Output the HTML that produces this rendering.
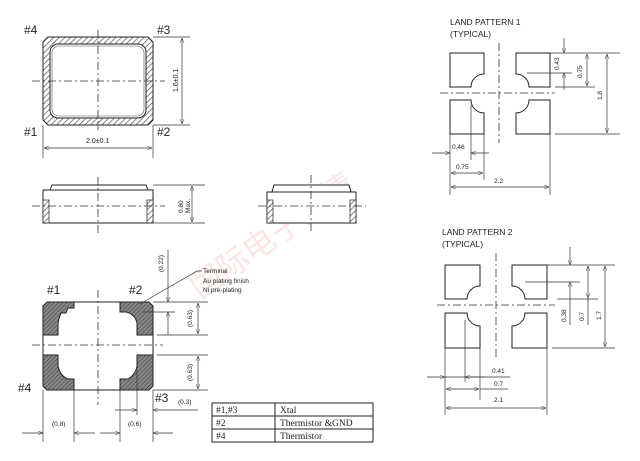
<!DOCTYPE html>
<html><head><meta charset="utf-8"><style>
html,body{margin:0;padding:0;background:#fff;}
svg{display:block;}
text{font-family:"Liberation Sans",sans-serif;fill:#222;}
.s{stroke:#222;stroke-width:1;fill:none;}
.d{stroke:#333;stroke-width:0.8;fill:none;stroke-dasharray:8,3,2,3;}
.t{stroke:#333;stroke-width:0.7;fill:none;}
</style></head><body>
<svg width="640" height="461" viewBox="0 0 640 461" xmlns="http://www.w3.org/2000/svg">
<defs>
<pattern id="h" width="4" height="4" patternUnits="userSpaceOnUse" patternTransform="rotate(45)">
<rect width="4" height="4" fill="#fff"/><line x1="0" y1="0" x2="0" y2="4" stroke="#444" stroke-width="1.3"/></pattern>
<pattern id="g" width="3" height="3" patternUnits="userSpaceOnUse" patternTransform="rotate(45)">
<rect width="3" height="3" fill="#888"/><line x1="0" y1="0" x2="0" y2="3" stroke="#444" stroke-width="1.2"/></pattern>
<marker id="a" viewBox="0 0 10 10" refX="10" refY="5" markerWidth="7" markerHeight="7" orient="auto-start-reverse"><path d="M0,1 L10,5 L0,9" fill="none" stroke="#333" stroke-width="1"/></marker>
</defs>

<!-- watermark -->
<text x="200" y="300" font-size="32" style="fill:#fbe6e6;font-family:'Noto Sans CJK SC',sans-serif" transform="rotate(-35 200 300)">国际电子商情</text>

<!-- TOP VIEW -->
<path d="M48,37 L148,37 L153,42 L153,120 L148,125 L48,125 L43,120 L43,42 Z" fill="url(#h)" stroke="#222"/>
<rect x="50" y="44" width="96" height="74" rx="8" fill="#fff" stroke="#222"/>
<rect x="52" y="46" width="92" height="70" rx="7" fill="none" stroke="#555" stroke-width="0.6"/>
<line class="d" x1="98" y1="30" x2="98" y2="130"/>
<line class="d" x1="32" y1="81" x2="165" y2="81"/>
<text x="24" y="34" font-size="12">#4</text>
<text x="157" y="34" font-size="12">#3</text>
<text x="24" y="136" font-size="12">#1</text>
<text x="157" y="136" font-size="12">#2</text>
<line class="t" x1="153" y1="37" x2="190" y2="37"/>
<line class="t" x1="153" y1="125" x2="190" y2="125"/>
<line class="t" x1="182" y1="38" x2="182" y2="124" marker-start="url(#a)" marker-end="url(#a)"/>
<text x="0" y="0" font-size="7" transform="translate(178,92) rotate(-90)">1.6±0.1</text>
<line class="t" x1="43" y1="125" x2="43" y2="158"/>
<line class="t" x1="153" y1="125" x2="153" y2="158"/>
<line class="t" x1="44" y1="148" x2="152" y2="148" marker-start="url(#a)" marker-end="url(#a)"/>
<text x="86" y="143" font-size="7">2.0±0.1</text>

<!-- SIDE VIEW 1 -->
<path d="M50,190 L52,185 L146,185 L148,190 Z" fill="#fff" stroke="#222"/>
<rect x="43" y="190" width="110" height="33" fill="#fff" stroke="#222"/>
<rect x="43" y="200" width="6" height="23" fill="url(#h)" stroke="#222" stroke-width="0.7"/>
<rect x="147" y="200" width="6" height="23" fill="url(#h)" stroke="#222" stroke-width="0.7"/>
<line class="d" x1="32" y1="206" x2="165" y2="206"/>
<line class="d" x1="98" y1="177" x2="98" y2="234"/>
<line class="t" x1="153" y1="185" x2="205" y2="185"/>
<line class="t" x1="153" y1="223" x2="205" y2="223"/>
<line class="t" x1="192" y1="186" x2="192" y2="222" marker-start="url(#a)" marker-end="url(#a)"/>
<text font-size="6.5" transform="translate(183,213) rotate(-90)">0.80</text>
<text font-size="6.5" transform="translate(190,213) rotate(-90)">Max.</text>

<!-- SIDE VIEW 2 -->
<path d="M272,192 L274,185 L349,185 L351,192 Z" fill="#fff" stroke="#222"/>
<rect x="267" y="192" width="89" height="31" fill="#fff" stroke="#222"/>
<rect x="267" y="200" width="6" height="23" fill="url(#h)" stroke="#222" stroke-width="0.7"/>
<rect x="350" y="200" width="6" height="23" fill="url(#h)" stroke="#222" stroke-width="0.7"/>
<line class="d" x1="258" y1="206" x2="366" y2="206"/>
<line class="d" x1="311" y1="175" x2="311" y2="234"/>

<!-- BOTTOM VIEW -->
<path d="M47,302 L74,302 L74,308 L68,308 L66,313 L61,313 Q58,320 58,325 L58,335 L43,335 L43,306 Z" fill="url(#g)" stroke="#222"/>
<path d="M120,302 L149,302 L153,306 L153,335 L137,335 L137,323 Q135,314 126,312 L120,312 Z" fill="url(#g)" stroke="#222"/>
<path d="M43,355 L58,355 L58,366 Q60,376 68,379 L74,379 L74,390 L47,390 L43,386 Z" fill="url(#g)" stroke="#222"/>
<path d="M137,355 L153,355 L153,386 L149,390 L120,390 L120,379 L128,379 Q136,374 137,366 Z" fill="url(#g)" stroke="#222"/>
<line class="s" x1="74" y1="302" x2="120" y2="302"/>
<line class="s" x1="74" y1="390" x2="120" y2="390"/>
<line class="s" x1="43" y1="335" x2="43" y2="355"/>
<line class="s" x1="153" y1="335" x2="153" y2="355"/>
<line class="d" x1="98" y1="290" x2="98" y2="405"/>
<line class="d" x1="32" y1="345" x2="163" y2="345"/>
<text x="47" y="294" font-size="12">#1</text>
<text x="129" y="294" font-size="12">#2</text>
<text x="18" y="392" font-size="12">#4</text>
<text x="155" y="402" font-size="12">#3</text>
<text x="178" y="404" font-size="6.5">(0.3)</text>
<line class="t" x1="153" y1="302" x2="208" y2="302"/>
<line class="t" x1="143" y1="312" x2="175" y2="312"/>
<line class="t" x1="157" y1="335" x2="208" y2="335"/>
<line class="t" x1="157" y1="355" x2="208" y2="355"/>
<line class="t" x1="153" y1="390" x2="208" y2="390"/>
<line class="t" x1="168" y1="250" x2="168" y2="302" marker-end="url(#a)"/>
<line class="t" x1="168" y1="335" x2="168" y2="312" marker-end="url(#a)"/>
<text font-size="6.5" transform="translate(163,272) rotate(-90)">(0.22)</text>
<line class="t" x1="198" y1="303" x2="198" y2="334" marker-start="url(#a)" marker-end="url(#a)"/>
<text font-size="6.5" transform="translate(192,327) rotate(-90)">(0.63)</text>
<line class="t" x1="198" y1="356" x2="198" y2="389" marker-start="url(#a)" marker-end="url(#a)"/>
<text font-size="6.5" transform="translate(192,381) rotate(-90)">(0.63)</text>
<polyline class="t" points="140,304 197,271 202,271"/>
<text x="203" y="273" font-size="6.5">Terminal</text>
<text x="203" y="283" font-size="6.5">Au plating finish</text>
<text x="203" y="292" font-size="6.5">Ni pre-plating</text>
<line class="t" x1="43" y1="390" x2="43" y2="442"/>
<line class="t" x1="74" y1="390" x2="74" y2="442"/>
<line class="t" x1="120" y1="390" x2="120" y2="442"/>
<line class="t" x1="153" y1="390" x2="153" y2="442"/>
<line class="t" x1="137" y1="370" x2="137" y2="415"/>
<line class="t" x1="22" y1="433" x2="43" y2="433" marker-end="url(#a)"/>
<line class="t" x1="95" y1="433" x2="74" y2="433" marker-end="url(#a)"/>
<line class="t" x1="100" y1="433" x2="120" y2="433" marker-end="url(#a)"/>
<line class="t" x1="173" y1="433" x2="153" y2="433" marker-end="url(#a)"/>
<line class="t" x1="115" y1="410" x2="137" y2="410" marker-end="url(#a)"/>
<line class="t" x1="198" y1="410" x2="153" y2="410" marker-end="url(#a)"/>
<text x="52" y="426" font-size="6.5">(0.8)</text>
<text x="128" y="426" font-size="6.5">(0.6)</text>

<!-- TABLE -->
<rect x="212" y="403" width="161" height="39" fill="#fff" stroke="#222"/>
<line class="s" x1="212" y1="416" x2="373" y2="416"/>
<line class="s" x1="212" y1="429" x2="373" y2="429"/>
<line class="s" x1="275" y1="403" x2="275" y2="442"/>
<g font-size="9.5">
<text x="216" y="413" style="font-family:'Liberation Serif',serif">#1,#3</text>
<text x="280" y="413" style="font-family:'Liberation Serif',serif">Xtal</text>
<text x="216" y="426" style="font-family:'Liberation Serif',serif">#2</text>
<text x="280" y="426" style="font-family:'Liberation Serif',serif">Thermistor &amp;GND</text>
<text x="216" y="439" style="font-family:'Liberation Serif',serif">#4</text>
<text x="280" y="439" style="font-family:'Liberation Serif',serif">Thermistor</text>
</g>

<!-- LAND PATTERN 1 -->
<text x="450" y="25" font-size="8.5">LAND PATTERN 1</text>
<text x="450" y="37" font-size="8.5">(TYPICAL)</text>
<path class="s" d="M450,53 L484,53 L484,74 A13,13 0 0 0 471,87 L450,87 Z"/>
<path class="s" d="M516,53 L550,53 L550,87 L529,87 A13,13 0 0 0 516,74 Z"/>
<path class="s" d="M450,100 L471,100 A13,13 0 0 0 484,113 L484,134 L450,134 Z"/>
<path class="s" d="M529,100 L550,100 L550,134 L516,134 L516,113 A13,13 0 0 0 529,100 Z"/>
<line class="d" x1="499" y1="43" x2="499" y2="143"/>
<line class="d" x1="440" y1="93" x2="555" y2="93"/>
<line class="t" x1="550" y1="53" x2="620" y2="53"/>
<line class="t" x1="527" y1="73" x2="572" y2="73"/>
<line class="t" x1="555" y1="87" x2="595" y2="87"/>
<line class="t" x1="555" y1="134" x2="620" y2="134"/>
<line class="t" x1="564" y1="38" x2="564" y2="53" marker-end="url(#a)"/>
<line class="t" x1="564" y1="90" x2="564" y2="73" marker-end="url(#a)"/>
<text font-size="6.5" transform="translate(559,70) rotate(-90)">0.43</text>
<line class="t" x1="587" y1="54" x2="587" y2="86" marker-start="url(#a)" marker-end="url(#a)"/>
<text font-size="6.5" transform="translate(582,78) rotate(-90)">0.75</text>
<line class="t" x1="607" y1="54" x2="607" y2="133" marker-start="url(#a)" marker-end="url(#a)"/>
<text font-size="6.5" transform="translate(602,100) rotate(-90)">1.8</text>
<line class="t" x1="450" y1="134" x2="450" y2="195"/>
<line class="t" x1="484" y1="134" x2="484" y2="180"/>
<line class="t" x1="550" y1="134" x2="550" y2="195"/>
<line class="t" x1="471" y1="105" x2="471" y2="160"/>
<line class="t" x1="432" y1="153" x2="450" y2="153" marker-end="url(#a)"/>
<line class="t" x1="489" y1="153" x2="471" y2="153" marker-end="url(#a)"/>
<text x="452" y="149" font-size="6.5">0.46</text>
<line class="t" x1="451" y1="173" x2="483" y2="173" marker-start="url(#a)" marker-end="url(#a)"/>
<text x="456" y="169" font-size="6.5">0.75</text>
<line class="t" x1="451" y1="187" x2="549" y2="187" marker-start="url(#a)" marker-end="url(#a)"/>
<text x="494" y="183" font-size="6.5">2.2</text>

<!-- LAND PATTERN 2 -->
<text x="442" y="235" font-size="8.5">LAND PATTERN 2</text>
<text x="442" y="247" font-size="8.5">(TYPICAL)</text>
<path class="s" d="M445,265 L480,265 L480,286 A13,13 0 0 0 467,299 L445,299 Z"/>
<path class="s" d="M512,265 L547,265 L547,299 L525,299 A13,13 0 0 0 512,286 Z"/>
<path class="s" d="M445,313 L467,313 A13,13 0 0 0 480,326 L480,348 L445,348 Z"/>
<path class="s" d="M525,313 L547,313 L547,348 L512,348 L512,326 A13,13 0 0 0 525,313 Z"/>
<line class="d" x1="496" y1="253" x2="496" y2="360"/>
<line class="d" x1="437" y1="305" x2="555" y2="305"/>
<line class="t" x1="547" y1="265" x2="615" y2="265"/>
<line class="t" x1="525" y1="282" x2="580" y2="282"/>
<line class="t" x1="557" y1="299" x2="598" y2="299"/>
<line class="t" x1="552" y1="348" x2="615" y2="348"/>
<line class="t" x1="570" y1="247" x2="570" y2="265" marker-end="url(#a)"/>
<line class="t" x1="570" y1="325" x2="570" y2="282" marker-end="url(#a)"/>
<text font-size="6.5" transform="translate(566,322) rotate(-90)">0.38</text>
<line class="t" x1="588" y1="266" x2="588" y2="298" marker-start="url(#a)" marker-end="url(#a)"/>
<line class="t" x1="588" y1="298" x2="588" y2="325"/>
<text font-size="6.5" transform="translate(584,321) rotate(-90)">0.7</text>
<line class="t" x1="605" y1="266" x2="605" y2="347" marker-start="url(#a)" marker-end="url(#a)"/>
<text font-size="6.5" transform="translate(601,320) rotate(-90)">1.7</text>
<line class="t" x1="445" y1="348" x2="445" y2="415"/>
<line class="t" x1="465" y1="320" x2="465" y2="382"/>
<line class="t" x1="480" y1="348" x2="480" y2="400"/>
<line class="t" x1="547" y1="348" x2="547" y2="415"/>
<line class="t" x1="427" y1="377" x2="445" y2="377" marker-end="url(#a)"/>
<line class="t" x1="445" y1="377" x2="510" y2="377"/>
<line class="t" x1="485" y1="377" x2="465" y2="377" marker-end="url(#a)"/>
<text x="492" y="373" font-size="6.5">0.41</text>
<line class="t" x1="446" y1="389" x2="479" y2="389" marker-start="url(#a)" marker-end="url(#a)"/>
<line class="t" x1="480" y1="389" x2="508" y2="389"/>
<text x="494" y="386" font-size="6.5">0.7</text>
<line class="t" x1="446" y1="408" x2="546" y2="408" marker-start="url(#a)" marker-end="url(#a)"/>
<text x="494" y="402" font-size="6.5">2.1</text>
</svg>
</body></html>
